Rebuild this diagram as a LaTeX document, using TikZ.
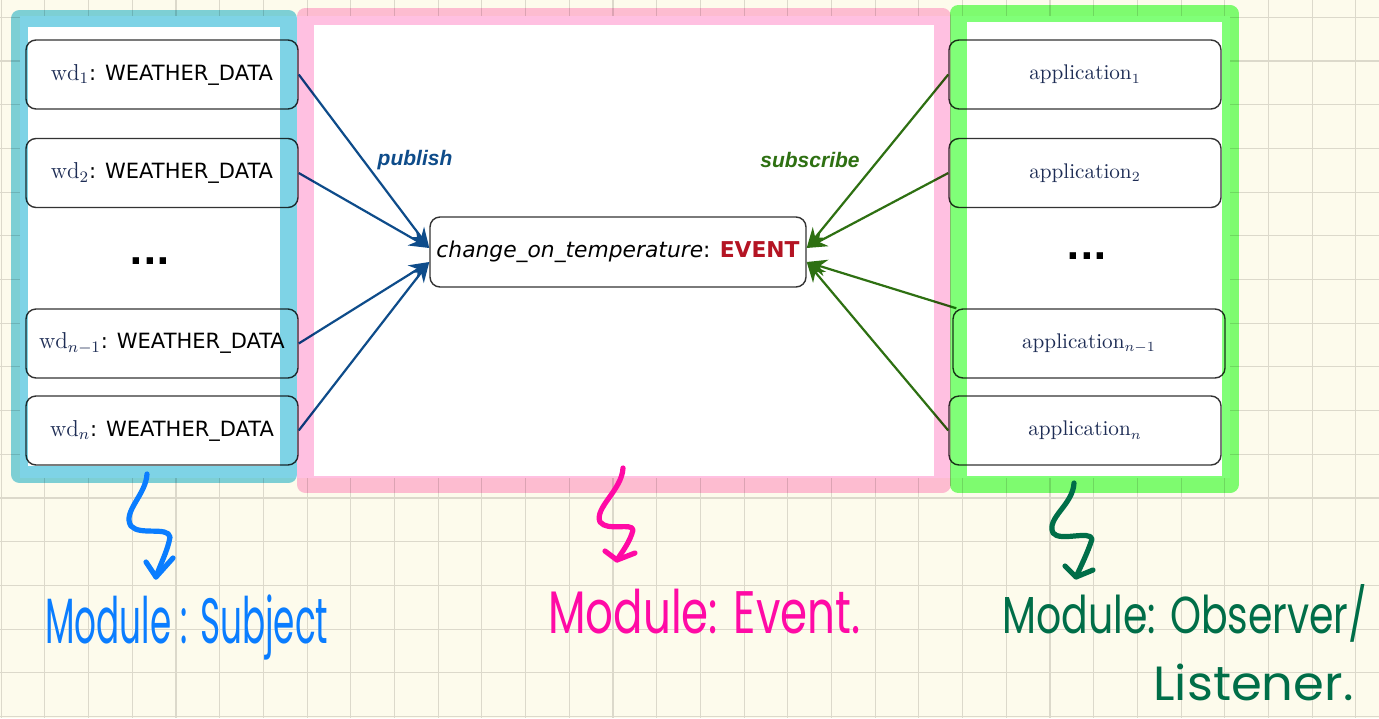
\documentclass[tikz,border=0pt]{standalone}
\usepackage{fontspec}
\usepackage{graphicx}
\newfontfamily\boxfont{DejaVu Sans}
\newfontfamily\tagfont{Liberation Sans}
\newfontfamily\handfont{Poppins}
\usetikzlibrary{arrows.meta}

\definecolor{paper}{RGB}{253,251,236}
\definecolor{gridline}{RGB}{220,217,203}
\definecolor{navy}{RGB}{30,45,85}
\definecolor{eventred}{RGB}{180,20,35}
\definecolor{pubblue}{RGB}{14,76,138}
\definecolor{subgreen}{RGB}{46,112,18}
\definecolor{frameblue}{RGB}{126,211,230}
\definecolor{framepink}{RGB}{255,192,225}
\definecolor{framegreen}{RGB}{128,255,120}
\definecolor{handblue}{RGB}{10,125,255}
\definecolor{handpink}{RGB}{255,10,165}
\definecolor{handgreen}{RGB}{0,110,72}

\newcommand\wdname[1]{{\rmfamily\fontsize{11.5}{13}\selectfont\color{navy}wd$_{#1}$}}

\begin{document}
\begin{tikzpicture}[x=0.5pt, y=-0.5pt,
    objbox/.style={draw=black!80, line width=0.7pt, rounded corners=5pt, fill=white,
      minimum width=136pt, minimum height=34.5pt, inner sep=0pt,
      font=\boxfont\fontsize{10.5}{12}\selectfont},
    appbox/.style={objbox, font=\rmfamily\fontsize{10.6}{12}\selectfont, text=navy},
    eventbox/.style={objbox, minimum width=188pt, minimum height=35pt,
      font=\boxfont\fontsize{10.9}{13}\selectfont},
    dots/.style={font=\boxfont\bfseries\fontsize{18}{20}\selectfont, inner sep=0pt},
    tag/.style={font=\tagfont\bfseries\itshape\fontsize{10.5}{12}\selectfont, inner sep=0pt},
    pubarrow/.style={draw=pubblue, line width=1.1pt, -{Stealth[length=10pt, width=8.5pt]}},
    subarrow/.style={draw=subgreen, line width=1.1pt, -{Stealth[length=10pt, width=8.5pt]}},
    frame/.style={line width=8.5pt, line join=round},
    handline/.style={line width=2.6pt, line cap=round, line join=round},
    handtext/.style={inner sep=0pt, anchor=base west}]

  % paper with grid
  \useasboundingbox (0,0) rectangle (1379,718);
  \fill[paper] (0,0) rectangle (1379,718);
  \foreach \gx in {0,...,31}
    \draw[gridline, line width=0.55pt] ({1.2+43.7*\gx},0) -- ++(0,718);
  \foreach \gy in {0,...,16}
    \draw[gridline, line width=0.55pt] (0,{17.3+43.7*\gy}) -- ++(1379,0);

  % the pasted diagram
  \fill[white] (20,16) rectangle (1230,478);

  \node[objbox] (wd1) at (162,74.5) {\wdname{1}: WEATHER\_DATA};
  \node[objbox] (wd2) at (162,173) {\wdname{2}: WEATHER\_DATA};
  \node[dots] (wddots) at (150,261) {...};
  \node[objbox] (wdm) at (162,343.5) {\wdname{n-1}: WEATHER\_DATA};
  \node[objbox] (wdn) at (162,430.5) {\wdname{n}: WEATHER\_DATA};

  \node[eventbox] (event) at (618,252) {\textit{change\_on\_temperature}: \textbf{\color{eventred}EVENT}};

  \node[appbox] (app1) at (1085,74.5) {application$_1$};
  \node[appbox] (app2) at (1085,173) {application$_2$};
  \node[dots] (appdots) at (1087,256) {...};
  \node[appbox] (appm) at (1089,343.5) {application$_{n-1}$};
  \node[appbox] (appn) at (1085,430.5) {application$_n$};

  \node[tag, text=pubblue] (publish) at (415,160) {publish};
  \node[tag, text=subgreen] (subscribe) at (810,160) {subscribe};

  \foreach \src/\dy in {wd1/2, wd2/2, wdm/-5, wdn/-5}
    \draw[pubarrow] (\src.east) -- ([yshift=\dy pt]event.west);
  \foreach \src/\dy in {app1/2, app2/2, appn/-5}
    \draw[subarrow] (\src.west) -- ([yshift=\dy pt]event.east);
  \draw[subarrow] ([xshift=2pt]appm.north west) -- ([yshift=-5pt]event.east);

  % highlighter frames
  \begin{scope}[blend mode=multiply]
    \draw[frame, frameblue] (19.5,18.5) rectangle (288.5,474.5);
    \draw[frame, framepink] (305.5,16) rectangle (942,484.5);
    \draw[frame, framegreen] (958,13.5) rectangle (1230,484.5);
  \end{scope}

  % handwritten notes
  \draw[handline, handblue] (147,474) .. controls (146,495) and (122,512) .. (131,526)
    .. controls (140,536) and (168,526) .. (170,537) .. controls (168,550) and (160,565) .. (156,577);
  \draw[handline, handblue] (146,562) -- (156,577) -- (173,558);
  \node[handtext, text=handblue, font=\handfont\fontsize{32}{36}\selectfont] (subjectnote) at (45,643)
    {\resizebox{141.5pt}{\height}{Module : Subject}};

  \draw[handline, handpink] (623,468) .. controls (622,490) and (594,508) .. (600,522)
    .. controls (608,532) and (632,522) .. (633,530) .. controls (630,542) and (622,552) .. (617,560);
  \draw[handline, handpink] (605,551) -- (617,560) -- (635,553);
  \node[handtext, text=handpink, font=\handfont\fontsize{30}{34}\selectfont] (eventnote) at (548,633)
    {\resizebox{156pt}{\height}{Module: Event.}};

  \draw[handline, handgreen] (1074,483) .. controls (1073,505) and (1046,518) .. (1053,533)
    .. controls (1060,542) and (1090,530) .. (1092,539) .. controls (1088,552) and (1080,568) .. (1076,577);
  \draw[handline, handgreen] (1065,566) -- (1076,577) -- (1093,570);
  \node[handtext, text=handgreen, font=\handfont\fontsize{26}{30}\selectfont] (observernote) at (1002,633)
    {\resizebox{182.5pt}{\height}{Module: Observer/}};
  \node[handtext, text=handgreen, font=\handfont\fontsize{24}{28}\selectfont] (listenernote) at (1153,700)
    {\resizebox{100pt}{\height}{Listener.}};
\end{tikzpicture}
\end{document}
